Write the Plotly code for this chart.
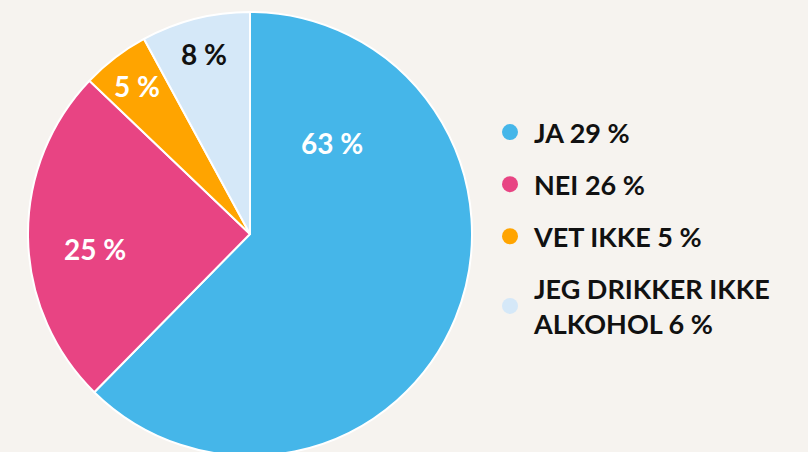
import math
import plotly.graph_objects as go

categories = ["JA", "NEI", "VET IKKE", "JEG DRIKKER IKKE ALKOHOL"]
pie_values = [63, 25, 5, 8]
pie_labels = ["63 %", "25 %", "5 %", "8 %"]
legend_labels = ["JA 29 %", "NEI 26 %", "VET IKKE 5 %", "JEG DRIKKER IKKE<br>ALKOHOL 6 %"]
colors = ["#45b6e9", "#e84483", "#ffa400", "#d5e8f8"]
text_colors = ["white", "white", "white", "#111111"]

# label placement style: radius as fraction of pie radius, optional angle override (deg clockwise from top)
label_radius_frac = [0.55, 0.70, 0.84, 0.835]
label_angle_override = [42, 264.5, None, None]

W, H = 808, 468
FONT = "Lato"
CX, CY, R = 250, 234, 222  # pie centre / radius in px (from top-left)

fig = go.Figure()
fig.add_trace(go.Pie(
    labels=categories,
    values=pie_values,
    textinfo="none",
    marker=dict(colors=colors, line=dict(color="white", width=2)),
    sort=False,
    direction="clockwise",
    rotation=0,
    showlegend=False,
    hoverinfo="skip",
    domain=dict(x=[(CX - R) / W, (CX + R) / W], y=[(H - CY - R) / H, (H - CY + R) / H]),
))

total = sum(pie_values)
cum = 0
for v, lab, tc, rf, ao in zip(pie_values, pie_labels, text_colors, label_radius_frac, label_angle_override):
    mid = (cum + v / 2) / total * 360
    cum += v
    ang = math.radians(ao if ao is not None else mid)
    px = CX + rf * R * math.sin(ang)
    py = CY - rf * R * math.cos(ang)
    fig.add_annotation(
        x=px / W, y=1 - py / H, xref="paper", yref="paper",
        text=lab, showarrow=False, xanchor="center", yanchor="middle",
        font=dict(size=28, family=FONT, color=tc, weight="bold"),
    )

for i, (lab, col) in enumerate(zip(legend_labels, colors)):
    fig.add_trace(go.Scatter(
        x=[None], y=[None], mode="markers", name=lab,
        marker=dict(color=col, size=18, symbol="circle"),
        legendgroup=f"g{i}", showlegend=True,
    ))

fig.update_layout(
    width=W, height=H, autosize=False,
    margin=dict(l=0, r=0, t=0, b=0),
    paper_bgcolor="#f6f3ef", plot_bgcolor="#f6f3ef",
    xaxis=dict(visible=False), yaxis=dict(visible=False),
    legend=dict(
        x=486 / W, y=1 - 108 / H, xanchor="left", yanchor="top",
        font=dict(size=27, family=FONT, color="#111111", weight="bold"),
        bgcolor="rgba(0,0,0,0)", traceorder="grouped", tracegroupgap=14,
        itemsizing="trace", itemwidth=38,
    ),
)

fig.write_html(
    "out.html",
    config={"displayModeBar": False},
    post_script="document.body.style.margin='0';document.body.style.overflow='hidden';document.documentElement.style.overflow='hidden';",
)
